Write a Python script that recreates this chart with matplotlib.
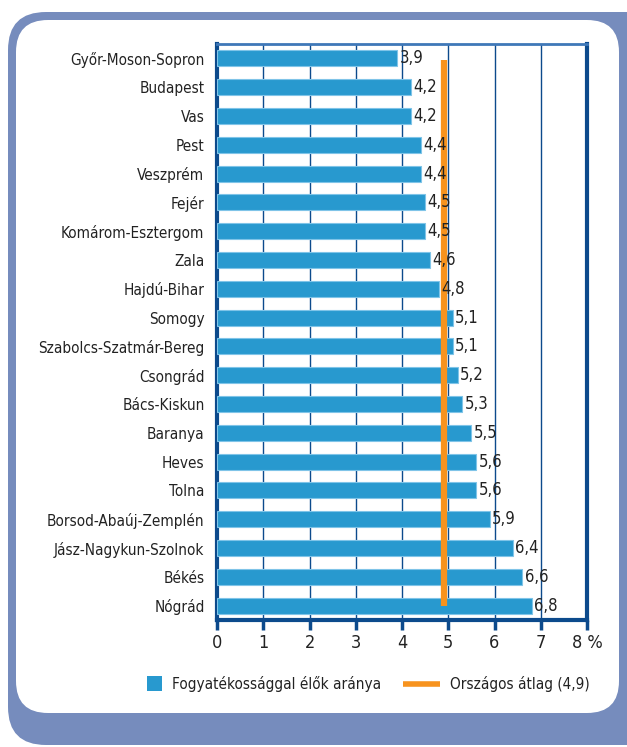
import numpy as np
import matplotlib
matplotlib.use("Agg")
import matplotlib.pyplot as plt
from matplotlib.patches import FancyBboxPatch, Rectangle
from matplotlib import font_manager

# adatok
megyek = ["Győr-Moson-Sopron", "Budapest", "Vas", "Pest", "Veszprém", "Fejér",
          "Komárom-Esztergom", "Zala", "Hajdú-Bihar", "Somogy",
          "Szabolcs-Szatmár-Bereg", "Csongrád", "Bács-Kiskun", "Baranya",
          "Heves", "Tolna", "Borsod-Abaúj-Zemplén", "Jász-Nagykun-Szolnok",
          "Békés", "Nógrád"]
arany = [3.9, 4.2, 4.2, 4.4, 4.4, 4.5, 4.5, 4.6, 4.8, 5.1,
         5.1, 5.2, 5.3, 5.5, 5.6, 5.6, 5.9, 6.4, 6.6, 6.8]
orszagos_atlag = 4.9
x_ticks = [0, 1, 2, 3, 4, 5, 6, 7, 8]
x_labels = ["0", "1", "2", "3", "4", "5", "6", "7", "8 %"]
jelmagyarazat = ["Fogyatékossággal élők aránya", "Országos átlag (4,9)"]

nevek = {f.name for f in font_manager.fontManager.ttflist}
if "Liberation Sans Narrow" in nevek:
    plt.rcParams["font.family"] = ["Liberation Sans Narrow", "DejaVu Sans"]
    meret = 12.5
else:
    plt.rcParams["font.family"] = ["DejaVu Sans"]
    plt.rcParams["font.stretch"] = "condensed"
    meret = 11

szoveg = "#222222"
kek = "#2899cf"
narancs = "#f7931e"
keret = "#0c4a8c"
hatter = "#768cbd"

fig = plt.figure(figsize=(6.27, 7.47), dpi=100)
W, H = 627, 747

# háttér: pixel koordinátás segéd-tengely
bgax = fig.add_axes([0, 0, 1, 1], zorder=-1)
bgax.set_xlim(0, W)
bgax.set_ylim(H, 0)
bgax.axis("off")
bgax.add_patch(FancyBboxPatch((8, 12), 660, 733, boxstyle="round,pad=0,rounding_size=38",
                              facecolor=hatter, edgecolor="none"))
bgax.add_patch(FancyBboxPatch((16, 20), 603, 693, boxstyle="round,pad=0,rounding_size=32",
                              facecolor="white", edgecolor="none"))

# jelmagyarázat kézzel
bgax.add_patch(Rectangle((147, 676), 15, 15, facecolor=kek, edgecolor="none"))
bgax.text(172, 684, jelmagyarazat[0], va="center", ha="left", fontsize=meret, color=szoveg)
bgax.plot([403, 440], [684, 684], color=narancs, linewidth=4, solid_capstyle="butt")
bgax.text(450, 684, jelmagyarazat[1], va="center", ha="left", fontsize=meret, color=szoveg)

ax = fig.add_axes([217 / W, 1 - 620 / H, (587 - 217) / W, (620 - 44) / H])
ax.set_facecolor("none")
y = np.arange(len(megyek))
ax.barh(y, arany, height=0.55, color=kek, edgecolor="#7fc4e8", linewidth=0.8, zorder=3)
for yi, v in zip(y, arany):
    ax.text(v + 0.05, yi, f"{v:.1f}".replace(".", ","), va="center", ha="left",
            fontsize=meret + 1, color=szoveg, zorder=5)
ax.plot([orszagos_atlag, orszagos_atlag], [0.05, len(megyek) - 1],
        color=narancs, linewidth=4.5, solid_capstyle="butt", zorder=4)

ax.set_xlim(0, 8)
ax.set_ylim(len(megyek) - 0.5, -0.5)
ax.set_yticks(y)
ax.set_yticklabels(megyek, fontsize=meret, color=szoveg)
ax.tick_params(axis="y", length=0, pad=9)
ax.set_xticks(x_ticks)
ax.set_xticklabels(x_labels, fontsize=meret + 2, color=szoveg)
ax.tick_params(axis="x", length=7, width=2.5, color=keret, direction="out", pad=3)
ax.grid(axis="x", color=keret, linewidth=1.0, zorder=1)
for s in ["left", "bottom", "right"]:
    ax.spines[s].set_color(keret)
    ax.spines[s].set_linewidth(3)
ax.spines["top"].set_color("#3f78b8")
ax.spines["top"].set_linewidth(2)

fig.savefig("out.png", dpi=100)
